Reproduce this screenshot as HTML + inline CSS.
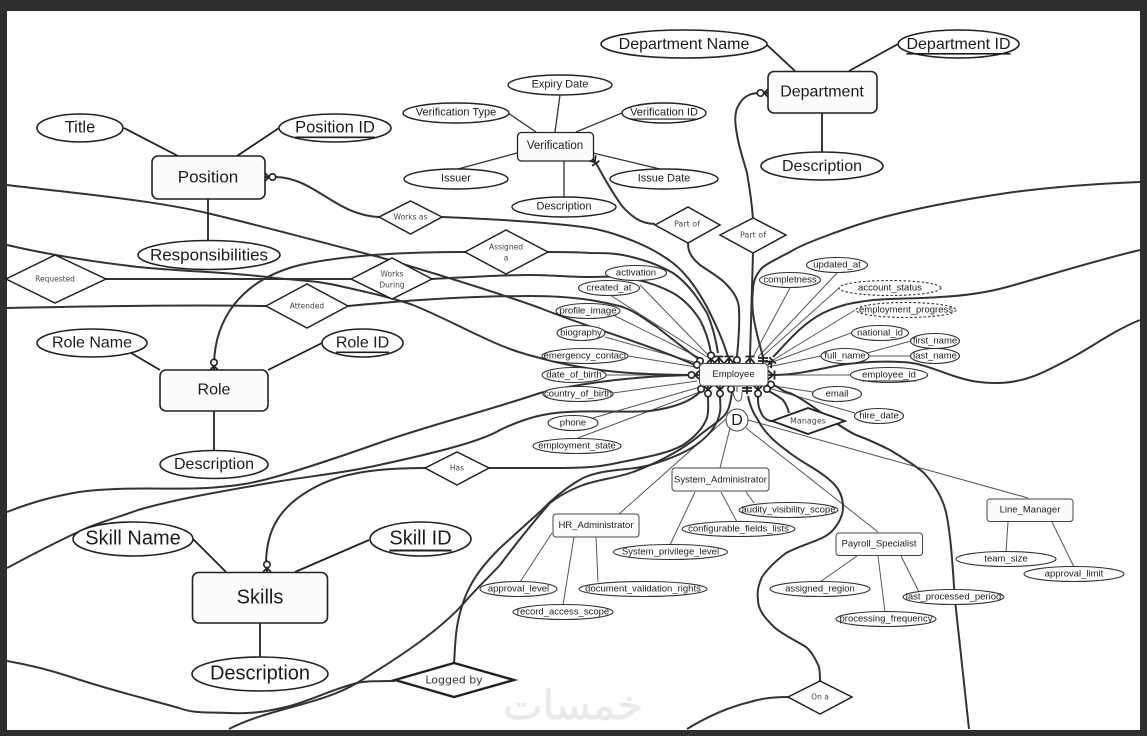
<!DOCTYPE html>
<html><head><meta charset="utf-8"><style>
html,body{margin:0;padding:0;background:#2e2e2e;width:1147px;height:736px;overflow:hidden}
svg{display:block}
text{font-family:"Liberation Sans",sans-serif;text-anchor:middle;dominant-baseline:central;fill:#1c1c1c}
.c{fill:none;stroke:#333;stroke-width:2}
.t{fill:none;stroke:#555;stroke-width:1}
.s{fill:none;stroke:#222;stroke-width:1.8}
.v{fill:none;stroke:#333;stroke-width:1.3}
.e{fill:#fff;stroke:#222;stroke-width:1.6}
.a{fill:#fff;stroke:#333;stroke-width:1.1}
.va{fill:#fff;stroke:#222;stroke-width:1.4}
.d{fill:#fff;stroke:#222;stroke-width:1.5}
.r{fill:#fcfcfc;stroke:#222;stroke-width:1.6}
.q{fill:#fcfcfc;stroke:#444;stroke-width:1}
.dl{font-family:"DejaVu Sans",sans-serif;fill:#444}
.m{fill:none;stroke:#222;stroke-width:1.8}
.f{font-size:9.5px;fill:#222}
</style></head><body>
<svg width="1147" height="736" viewBox="0 0 1147 736" xmlns="http://www.w3.org/2000/svg">
<defs>
<g id="o"><circle cx="0" cy="-3" r="3.2" fill="#fff" stroke="#222" stroke-width="1.6"/></g>
<g id="co"><path class="m" d="M-4,0L0,-4L4,0M0,0V-4"/><circle cx="0" cy="-7.500" r="3.200" fill="#fff" stroke="#222" stroke-width="1.6"/></g>
<g id="x"><path class="m" d="M-4.500,0L0,-5L4.500,0M0,0V-7M-4.500,-6.500L4.500,-6.500"/></g>
<g id="b"><path class="m" d="M-5,-2H5M-5,-5H5M0,0V-8"/></g>
</defs>
<rect x="7" y="11" width="1133" height="719" fill="#fff"/>

<text x="573" y="706" style="font-family:'DejaVu Sans',sans-serif;font-size:40px;fill:#e9e9e9;stroke:#ececec;stroke-width:1" textLength="140" lengthAdjust="spacingAndGlyphs">خمسات</text>

<!-- thin attribute connectors -->
<g class="t">
<path d="M640,285L710,357M610,295L707,357M613,315L700,358M605,337L697,363M628,356L696,367M606,375L696,375M613,393L697,381M593,418L700,387M578,438L705,390"/>
<path d="M790,288L753,357M837,273L758,357M839,288L762,357M855,310L770,362M851,333L770,363M821,356L768,367M851,375L768,375M813,392L768,385M855,413L768,388M867,353L911,341M869,356L911,356"/>
<path d="M737,386V392M733,392C734,399 737,402 739,401C742,400 742,396 742,392M748,420L1028,498M746,428L878,532M730,428L720,468M727,418L619,514"/>
<path d="M746,492L754,503M721,492L737,522M695,492L670,545M552,533L520,582M574,537L563,605M596,537L598,582M857,556L820,582M878,556L885,612M901,556L919,592M1008,522L1006,552M1052,522L1074,567"/>
</g>
<g class="v">
<path d="M560,95L555,132M508,113L536,132M622,113L576,132M458,169L517,153M660,169L593,153M564,161V197"/>
</g>
<g class="s">
<path d="M124,128L178,156M279,128L237,156M208,199V241M131,353L160,370M322,343L268,370M214,411V451M193,539L226,572M369,540L295,572M260,623V657M766,44L795,71M898,44L849,71M822,113V152"/>
</g>

<!-- thick relationship curves -->
<g class="c">
<path d="M7,185C90,195 150,200 207,213C270,228 320,242 379,257C430,272 490,290 540,308C590,328 650,345 695,365"/>
<path d="M7,245C50,255 95,262 138,267C190,272 230,272 275,278C305,281 320,281 344,287C370,293 390,297 413,305C440,316 460,327 482,337C505,348 520,353 540,358C590,372 640,375 695,375"/>
<path d="M7,512C30,503 50,497 79,492C120,486 170,490 207,488C235,486 250,484 275,477C310,467 345,455 379,443C430,425 490,410 540,393C590,381 640,376 695,375"/>
<path d="M7,568C35,553 60,540 89,527C110,519 125,515 138,510C180,498 230,490 275,482C310,476 345,473 379,465C430,454 480,442 500,430C525,418 545,413 567,412C600,410 625,413 650,411C672,408 690,402 700,392"/>
<path d="M395,681C380,681 365,681 357,683C330,690 310,701 286,707C265,712 250,714 229,713C210,712 195,714 179,708C140,697 110,690 71,677C50,670 30,665 7,661"/>
<path d="M454,663C455,650 455,640 457,627C459,615 461,609 464,600C472,578 485,563 500,548C512,537 522,528 533,518C540,512 545,507 550,502C560,493 570,485 583,478C605,468 630,471 650,465C670,459 688,452 700,442C710,434 718,424 720,412C721,407 720,402 720,397"/>
<path d="M229,729C270,708 320,705 357,683C400,657 440,630 464,603C475,590 488,578 500,565C515,545 535,520 550,503C560,495 570,490 583,485C600,479 617,478 633,472C660,462 685,448 700,435C712,425 722,420 727,412C730,406 731,400 732,392"/>
<path d="M489,468H500C515,468 535,468 550,468C575,468 595,468 617,463C640,458 665,455 683,445C695,437 703,428 707,418C709,410 708,403 708,397"/>
<path d="M276,177C315,178 335,215 379,217"/>
<path d="M442,217C490,219 550,222 590,228C602,230 612,233 623,237C642,244 657,251 673,263C688,275 698,291 707,307C716,325 723,340 728,357"/>
<path d="M548,252C570,252 575,252 590,253C602,253 612,253 623,255C642,259 657,264 673,273C689,284 699,300 707,313C713,327 716,340 718,353"/>
<path d="M432,279C470,277 500,275 530,275C550,275 570,277 590,277C602,277 612,276 623,277C642,280 658,285 673,293C685,300 693,309 700,320C706,331 709,342 711,353"/>
<path d="M348,306C400,301 470,296 530,296C550,296 570,297 590,300C602,302 612,304 623,307C636,312 646,320 657,327C672,339 686,350 700,360"/>
<path d="M351,279H106M465,252C400,252 340,256 300,265C240,280 215,320 214,364"/>
<path d="M425,468C380,468 340,472 310,490C275,510 267,535 266,561"/>
<path d="M655,224C640,224 630,215 622,206C612,192 604,178 596,163"/>
<path d="M688,243C688,253 692,258 700,265C710,272 718,276 725,283C734,292 739,300 739,310C740,325 738,345 737,357"/>
<path d="M753,219C752,205 750,190 747,173C744,162 740,150 738,140C735,125 733,112 740,103C745,95 752,93 760,93"/>
<path d="M753,253C752,290 751,325 750,357"/>
<path d="M1140,182C1090,184 1050,187 1007,193C960,200 915,208 873,220C840,230 800,245 790,252C778,258 770,262 763,267C756,274 753,282 753,290C752,298 752,305 753,313C755,330 760,345 763,357"/>
<path d="M1140,250C1090,262 1050,275 1007,287C985,293 960,296 940,297C915,299 895,298 873,300C850,303 840,305 823,313C800,325 785,345 773,357"/>
<path d="M1140,320C1115,330 1095,345 1073,357C1045,372 1025,383 997,383C980,383 970,381 957,377C935,370 920,362 900,362C880,361 860,362 840,365C815,370 795,375 773,375"/>
<path d="M774,385C780,388 783,392 790,393C810,402 835,425 856,435C870,440 880,445 890,450C900,456 915,465 924,473C935,485 944,500 947,517C952,545 953,575 955,600L969,729"/>
<path d="M820,681C820,675 820,672 819,667C816,660 812,652 806,647C795,640 783,635 774,627C765,618 758,610 758,600C757,592 758,586 762,577C768,568 777,560 786,553C805,543 825,540 833,530C840,522 843,515 843,507C843,498 840,490 833,483C820,470 800,462 786,450C772,440 763,430 758,420C752,411 750,405 748,396"/>
<path d="M788,697C775,697 762,698 750,702C725,708 705,718 687,729"/>
<path d="M758,396C758,402 758,406 760,410C762,416 766,421 772,421"/>
<path d="M767,390C772,393 778,396 783,400C786,404 788,409 789,413"/>
<path d="M266,306C200,305 100,306 7,308"/>
</g>

<!-- cardinality markers -->
<use href="#co" transform="translate(711,363)"/>
<use href="#x" transform="translate(719,363)"/>
<use href="#x" transform="translate(729,363)"/>
<use href="#o" transform="translate(737,363)"/>
<use href="#x" transform="translate(750,363)"/>
<use href="#b" transform="translate(763,363)"/>
<use href="#x" transform="translate(768,365) rotate(45)"/>
<use href="#o" transform="translate(700,364)"/>
<use href="#o" transform="translate(699,367) rotate(-45)"/>
<use href="#co" transform="translate(699,375) rotate(-90)"/>
<use href="#x" transform="translate(768,375) rotate(90)"/>
<use href="#o" transform="translate(768,384) rotate(100)"/>
<use href="#o" transform="translate(701,386) rotate(180)"/>
<use href="#co" transform="translate(708,386) rotate(180)"/>
<use href="#co" transform="translate(720,386) rotate(180)"/>
<use href="#o" transform="translate(731,386) rotate(180)"/>
<use href="#b" transform="translate(747,386) rotate(180)"/>
<use href="#co" transform="translate(758,386) rotate(180)"/>
<use href="#o" transform="translate(767,386) rotate(180)"/>
<use href="#co" transform="translate(214,370)"/>
<use href="#co" transform="translate(267,572)"/>
<use href="#co" transform="translate(265,177) rotate(90)"/>
<use href="#co" transform="translate(768,93) rotate(-90)"/>
<use href="#x" transform="translate(592,158) rotate(145)"/>

<!-- entities -->
<rect class="r" x="152" y="156" width="113" height="43" rx="6"/><text x="208" y="177" font-size="17">Position</text>
<rect class="r" x="160" y="370" width="108" height="41" rx="6"/><text x="214" y="390" font-size="16">Role</text>
<rect class="r" x="192.500" y="572.500" width="135" height="50.500" rx="6"/><text x="260" y="597.500" font-size="20">Skills</text>
<rect class="r" x="768" y="71.500" width="109" height="41.500" rx="6"/><text x="822" y="92" font-size="16">Department</text>
<rect class="r" x="517.500" y="132.500" width="76" height="28.500" rx="4" style="stroke-width:1.3"/><text x="555" y="146" font-size="11.500">Verification</text>
<rect class="q" x="699.500" y="363.500" width="68.500" height="22.500" rx="4"/><text x="733.500" y="374.500" font-size="9.500">Employee</text>
<rect class="q" x="672" y="468" width="97" height="23" rx="3"/><text x="720.500" y="480" class="f">System_Administrator</text>
<rect class="q" x="553" y="514" width="86" height="23" rx="3"/><text x="596" y="525.500" class="f">HR_Administrator</text>
<rect class="q" x="836" y="533" width="86.500" height="22.500" rx="3"/><text x="879" y="544" class="f">Payroll_Specialist</text>
<rect class="q" x="987" y="499" width="86" height="22.500" rx="3"/><text x="1030" y="510" class="f">Line_Manager</text>

<!-- large attributes -->
<ellipse class="e" cx="80" cy="128" rx="43" ry="14"/><text x="80" y="127.500" font-size="16.500">Title</text>
<ellipse class="e" cx="335" cy="128" rx="56" ry="14"/><text x="335" y="127.500" font-size="16.500" text-decoration="underline">Position ID</text>
<ellipse class="e" cx="209" cy="255" rx="71" ry="14.500"/><text x="209" y="255" font-size="17">Responsibilities</text>
<ellipse class="e" cx="92" cy="343" rx="55" ry="14"/><text x="92" y="343" font-size="16">Role Name</text>
<ellipse class="e" cx="362.500" cy="343" rx="40.500" ry="14"/><text x="362.500" y="343" font-size="16" text-decoration="underline">Role ID</text>
<ellipse class="e" cx="214" cy="464.500" rx="54" ry="14"/><text x="214" y="464.500" font-size="16">Description</text>
<ellipse class="e" cx="133" cy="539" rx="60" ry="17"/><text x="133" y="538.500" font-size="20">Skill Name</text>
<ellipse class="e" cx="420.500" cy="539" rx="50.500" ry="17"/><text x="420.500" y="538.500" font-size="20" text-decoration="underline">Skill ID</text>
<ellipse class="e" cx="260" cy="674" rx="68" ry="17"/><text x="260" y="673.500" font-size="20">Description</text>
<ellipse class="e" cx="684" cy="44" rx="83" ry="14"/><text x="684" y="44.500" font-size="16">Department Name</text>
<ellipse class="e" cx="958.500" cy="44" rx="60.500" ry="14"/><text x="958.500" y="44.500" font-size="16" text-decoration="underline">Department ID</text>
<ellipse class="e" cx="822" cy="166" rx="61" ry="14"/><text x="822" y="166.500" font-size="16">Description</text>

<!-- verification attributes -->
<g font-size="11">
<ellipse class="va" cx="560" cy="85" rx="52" ry="10"/><text x="560" y="84.500">Expiry Date</text>
<ellipse class="va" cx="456" cy="113" rx="53" ry="10"/><text x="456" y="112.500">Verification Type</text>
<ellipse class="va" cx="664" cy="113" rx="42" ry="10"/><text x="664" y="112.500" text-decoration="underline">Verification ID</text>
<ellipse class="va" cx="456" cy="179" rx="52" ry="10"/><text x="456" y="178.500">Issuer</text>
<ellipse class="va" cx="664" cy="179" rx="54" ry="10"/><text x="664" y="178.500">Issue Date</text>
<ellipse class="va" cx="564" cy="207" rx="52" ry="10"/><text x="564" y="206.500">Description</text>
</g>

<!-- employee attributes -->
<g font-size="9.500">
<ellipse class="a" cx="636" cy="273" rx="30.500" ry="7.500"/><text x="636" y="273">activation</text>
<ellipse class="a" cx="609" cy="288" rx="30.500" ry="7.500"/><text x="609" y="288">created_at</text>
<ellipse class="a" cx="588" cy="311" rx="32" ry="7.500"/><text x="588" y="311">profile_image</text>
<ellipse class="a" cx="581" cy="333" rx="24" ry="7.500"/><text x="581" y="333">biography</text>
<ellipse class="a" cx="585" cy="356" rx="43" ry="7.500"/><text x="585" y="356">emergency_contact</text>
<ellipse class="a" cx="574" cy="375" rx="32" ry="7.500"/><text x="574" y="375">date_of_birth</text>
<ellipse class="a" cx="578" cy="394" rx="35" ry="7.500"/><text x="578" y="394">country_of_birth</text>
<ellipse class="a" cx="573" cy="423" rx="25" ry="7.500"/><text x="573" y="423">phone</text>
<ellipse class="a" cx="577" cy="446" rx="44" ry="7.500"/><text x="577" y="446">employment_state</text>
<ellipse class="a" cx="790" cy="280" rx="30.500" ry="7.500"/><text x="790" y="280">completness</text>
<ellipse class="a" cx="837" cy="265" rx="30.500" ry="7.500"/><text x="837" y="265">updated_at</text>
<ellipse class="a" cx="890" cy="288" rx="51" ry="7.500" stroke-dasharray="2.500 2"/><text x="890" y="288">account_status</text>
<ellipse class="a" cx="906" cy="310" rx="50" ry="7.500" stroke-dasharray="2.500 2"/><text x="906" y="310">employment_progress</text>
<ellipse class="a" cx="880" cy="333" rx="28.500" ry="7.500"/><text x="880" y="333">national_id</text>
<ellipse class="a" cx="935" cy="341" rx="24.500" ry="7.500"/><text x="935" y="341">first_name</text>
<ellipse class="a" cx="935" cy="356" rx="24.500" ry="7.500"/><text x="935" y="356">last_name</text>
<ellipse class="a" cx="845" cy="356" rx="24" ry="7.500"/><text x="845" y="356">full_name</text>
<ellipse class="a" cx="889" cy="375" rx="38.500" ry="7.500"/><text x="889" y="375" text-decoration="underline">employee_id</text>
<ellipse class="a" cx="837" cy="394" rx="24.500" ry="7.500"/><text x="837" y="394">email</text>
<ellipse class="a" cx="879" cy="416" rx="24.500" ry="7.500"/><text x="879" y="416">hire_date</text>
<ellipse class="a" cx="788.500" cy="510" rx="49.500" ry="7.500"/><text x="788.500" y="510">audity_visibility_scope</text>
<ellipse class="a" cx="738.500" cy="529" rx="56.500" ry="7.500"/><text x="738.500" y="529">configurable_fields_lists</text>
<ellipse class="a" cx="670.500" cy="552" rx="57" ry="7.500"/><text x="670.500" y="552">System_privilege_level</text>
<ellipse class="a" cx="518.500" cy="589" rx="38.500" ry="7.500"/><text x="518.500" y="589">approval_level</text>
<ellipse class="a" cx="563" cy="612" rx="50" ry="7.500"/><text x="563" y="612">record_access_scope</text>
<ellipse class="a" cx="643" cy="589" rx="64" ry="7.500"/><text x="643" y="589">document_validation_rights</text>
<ellipse class="a" cx="820" cy="589" rx="50" ry="7.500"/><text x="820" y="589">assigned_region</text>
<ellipse class="a" cx="886" cy="619" rx="50" ry="7.500"/><text x="886" y="619">processing_frequency</text>
<ellipse class="a" cx="953.500" cy="597" rx="50.500" ry="7.500"/><text x="953.500" y="597">last_processed_period</text>
<ellipse class="a" cx="1006" cy="559" rx="50" ry="7.500"/><text x="1006" y="559">team_size</text>
<ellipse class="a" cx="1074" cy="574" rx="50" ry="7.500"/><text x="1074" y="574">approval_limit</text>
</g>

<!-- disjoint circle -->
<circle cx="737" cy="420" r="11" fill="#fff" stroke="#444" stroke-width="1"/><text x="737" y="420.500" font-size="16">D</text>

<!-- relationship diamonds -->
<polygon class="d" points="379,217 410.500,201 442,217 410.500,234"/><text class="dl" x="410.500" y="217" font-size="7.500">Works as</text>
<polygon class="d" points="465,252 506,230 548,252 506,274"/><text class="dl" x="506" y="247" font-size="7.500">Assigned</text><text class="dl" x="506" y="258" font-size="7.500">a</text>
<polygon class="d" points="351,279 392,258 432,279 392,299"/><text class="dl" x="392" y="274" font-size="7.500">Works</text><text class="dl" x="392" y="285" font-size="7.500">During</text>
<polygon class="d" points="6,279 55,255 106,279 55,303"/><text class="dl" x="55" y="279" font-size="7.500">Requested</text>
<polygon class="d" points="266,306 307,284 348,306 307,328"/><text class="dl" x="307" y="306" font-size="7.500">Attended</text>
<polygon class="d" points="425,468 457,452 489,468 457,485"/><text class="dl" x="457" y="468" font-size="7.500">Has</text>
<polygon class="d" points="395,680 454,663 514,680 454,697" style="stroke-width:2.400"/><text class="dl" x="454" y="680" font-size="11" style="fill:#333">Logged by</text>
<polygon class="d" points="788,697 820,681 852,697 820,714"/><text class="dl" x="820" y="697" font-size="7.500">On a</text>
<polygon class="d" points="655,225 688,207 720,225 688,243"/><text class="dl" x="687" y="224" font-size="8">Part of</text>
<polygon class="d" points="720,235 753,218 786,235 753,253"/><text class="dl" x="753" y="235" font-size="8">Part of</text>
<polygon class="d" points="772,421 808,408 845,421 808,434" style="stroke-width:1.800"/><text class="dl" x="808" y="421" font-size="8">Manages</text>
</svg>
</body></html>
